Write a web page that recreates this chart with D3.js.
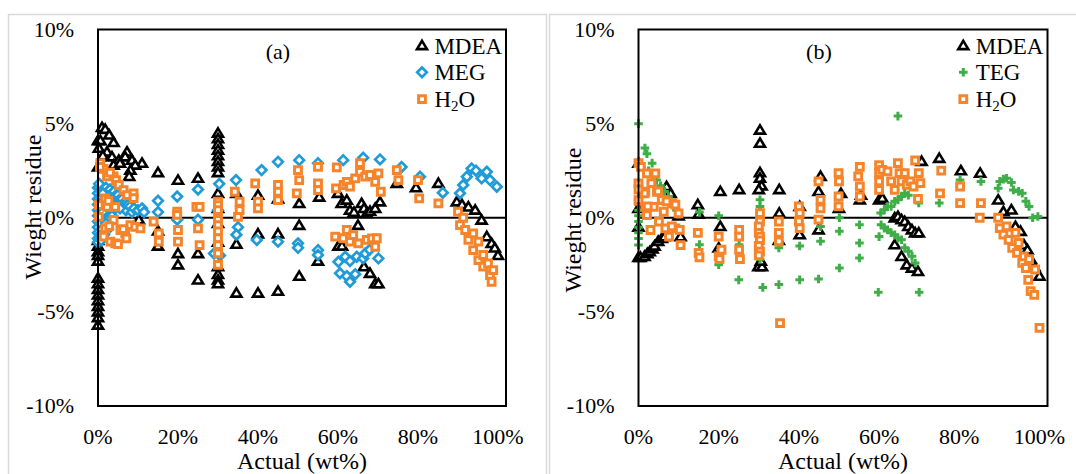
<!DOCTYPE html>
<html><head><meta charset="utf-8">
<script src="https://cdn.jsdelivr.net/npm/d3@7"></script>
<style>
html,body{margin:0;padding:0;background:#fff;}
svg{display:block;font-family:"Liberation Serif","Times New Roman",serif;}
</style></head>
<body><svg id="c" width="1076" height="474"></svg>
<script>
// ---------- data (x = actual wt%, y = weight residue %) ----------
const xTicks = [0, 20, 40, 60, 80, 100];
const yTicks = [-10, -5, 0, 5, 10];
const panelLabels = ["(a)", "(b)"];
const seriesNamesA = ["MDEA", "MEG", "H2O"];
const seriesNamesB = ["MDEA", "TEG", "H2O"];

const mdeaA = [
 [0,4.1],[0.6,4.1],[1.0,4.8],[1.8,4.7],[0.2,3.7],[3.9,4.0],[2.8,4.4],[2.25,3.5],[7.25,3.5],[3.5,3.24],[5.2,3.06],[6.8,3.24],
 [8.5,3.06],[11,2.9],[9.3,2.8],[3.9,2.8],[8.1,2.53],[5.5,2.9],[1.2,3.3],[0,2.7],[7.8,2.2],[10.2,-0.1],
 [0,-1.2],[0,-1.5],[0,-1.8],[0,-2.0],[0,-2.3],[0,-3.2],[0,-3.5],[0,-3.8],[0,-4.1],[0,-4.4],[0,-4.7],[0,-5.0],[0,-5.3],[0,-5.7],
 [15,2.4],[15,-0.7],[15,-1.5],[20,2.0],[20,-1.9],[20,-2.5],[25,2.1],[25,-1.9],[25,-3.3],
 [30,4.5],[30,4.2],[30,3.9],[30,3.6],[30,3.3],[30,3.0],[30,2.7],[30,2.4],[30,1.3],[30,0.5],[30,-0.3],[30,-1.3],[30,-2.6],[30,-3.0],[30,-3.3],[30,-3.5],
 [34.6,1.3],[34.6,-1.4],[34.6,-4.0],[40,1.2],[40,-0.85],[40,-4.0],[45,1.0],[45,-0.85],[45,-3.9],[50.3,0.76],[50.3,-0.4],[50.3,-3.1],
 [55.3,1.1],[55,-2.3],[60,1.3],[60.1,-1.5],[61,-1.5],[60.9,0.76],[62.2,0.94],[63,0.4],[64,0.3],[65,-0.4],[65.9,0.76],[66.5,0.5],
 [67.2,0.23],[68,0.35],[69.3,0.5],[70.5,0.85],[66.5,-2.6],[68,-2.95],[69.3,-3.5],[70.1,-3.5],[74.7,1.83],[79.5,1.6],[85.1,1.83],
 [89.7,0.85],[91,0.7],[92.6,0.58],[94.3,0.41],[95.9,-0.12],[97.2,-1.0],[98.4,-1.36],[99.2,-1.6],[100,-2.0]
];
const megA = [
 [0,1.6],[0,1.3],[0,1.0],[0,0.7],[0,0.4],[0,0.1],[0,-0.2],[0,-0.5],[0,-0.8],[0,-1.1],[0,-1.3],
 [0.5,1.5],[0.5,0.9],[0.5,0.3],[0.5,-0.3],[0.5,-0.9],[1,1.6],[1,1.1],[1,0.6],[1,0.0],[1,-0.6],[1.5,1.5],[1.5,0.8],[1.5,0.2],
 [2,1.6],[2,1.2],[2,0.6],[2.5,1.4],[2.5,0.9],[3,1.5],[3,1.0],[3,0.5],[3.5,1.3],[4,1.4],[4,0.9],[4.5,1.2],[5,1.2],[5,0.8],
 [5.5,1.0],[6,1.0],[6,0.6],[6.5,0.8],[7,0.8],[7,0.4],[7.5,0.7],[8,0.6],[8.5,0.3],[9,0.5],[10,0.4],[11,0.5],[11.5,0.3],
 [0.3,1.8],[1.2,1.3],[1.8,0.9],[2.2,0.3],[2.8,0.0],[3.2,0.8],[3.8,0.4],[0.8,-1.2],[1.5,-0.9],[2.0,-0.3],[1.2,0.3],
 [2.5,-0.6],[3.5,0.1],[4.5,0.6],[5.5,0.5],
 [15,0.9],[15,0.3],[19.8,1.13],[19.8,-0.1],[25,1.5],[25,-0.1],[30.3,1.8],[30,0.4],[29,-1.9],[30.5,-2.0],
 [34.5,2.0],[35,-0.5],[34.6,-0.9],[40.9,2.53],[39.7,-1.18],[45,2.97],[45,-1.27],[50.3,3.06],[50,-1.36],[50,-1.6],[55,2.9],[55,-1.72],[55,-1.98],
 [61.3,3.06],[60.1,-2.34],[60.5,-2.95],[62.2,-3.1],[63,-3.4],[61.8,-2.07],[63,-2.3],[64.3,-3.0],[64.7,-2.07],[66.3,-2.16],[66.3,3.19],
 [66.8,-1.9],[67.9,-1.7],[70.5,3.1],[70.1,-2.16],[75.9,2.7],[80.5,2.18],[86.2,1.33],[90.5,1.3],[91.3,1.74],[92.2,2.18],[93.4,2.62],
 [94.5,2.5],[95.9,2.09],[97.2,2.44],[98,2.0],[99.7,1.65]
];
const h2oA = [
 [0.6,2.9],[1.4,2.6],[2.25,2.2],[3.9,2.2],[4.5,2.0],[5.2,1.74],[6.4,1.47],[7.25,1.2],[8.9,1.3],[8.9,1.04],[1.8,1.03],[0.2,0.67],
 [2.25,0.58],[4.3,0.58],[0.2,0.05],[1.8,-0.56],[3.9,-0.12],[5.6,-0.65],[1.4,-1.0],[3.1,-1.27],[4.3,-1.36],[6.8,-0.83],[8.1,-0.39],
 [9.3,-0.48],[10.6,-0.56],[0.5,2.7],[3,2.4],[2.8,-0.45],[6.3,-0.6],[7.1,-1.1],[5,-1.4],[2.6,0.9],
 [13.9,-0.21],[15.2,-0.83],[15.2,-1.27],[19.8,0.33],[19.8,0.15],[20,-0.65],[20,-1.27],
 [24.6,0.58],[25.4,0.58],[25,-0.56],[25.4,-1.45],
 [30,0.85],[30,0.67],[30,0.41],[30,-0.12],[30,-0.39],[30,-0.73],[30,-1.09],[30,-1.45],[30,-1.89],[30,-2.5],
 [34.2,1.38],[35.4,0.85],[35.4,0.41],[35,0.05],[39.3,1.83],[40,0.85],[40,0.5],[45,1.74],[45,1.38],[45,0.94],
 [50,2.53],[50.3,2.0],[49.7,1.3],[55,2.7],[55,1.83],[55,1.47],[59.7,2.68],[59.5,1.56],[61.4,1.74],[62.2,1.91],[63,1.65],
 [64.3,2.09],[65.5,2.9],[65.5,2.44],[66.8,2.18],[68,2.27],[69.3,1.91],[70.1,2.36],[70.7,1.38],
 [59.3,-1.0],[61.3,-1.09],[62.2,-0.65],[63,-1.27],[63.8,-0.92],[65.1,-1.36],[67.2,-1.18],[68.5,-1.1],[69.3,-1.54],[69.7,-1.09],
 [74.7,2.53],[75.1,2.0],[80,2.0],[80.3,1.03],[85.1,0.76],
 [90,0.32],[90.5,-0.39],[91.3,0],[91.8,-0.65],[92.6,-1.18],[93.8,-0.83],[93.8,-1.72],[95.1,-1.27],[95.1,-2.25],[96.3,-1.98],
 [96.3,-2.6],[97.5,-2.43],[98,-3.04],[98.4,-3.4],[98.8,-2.78]
];

const mdeaB = [
 [0,-2.1],[0.5,-2.1],[1.5,-2.05],[2.2,-1.9],[2.8,-1.8],[3.5,-1.65],[4,-1.5],[4.9,-1.25],[5.8,-1.1],[6.5,-1.0],
 [0,2.9],[0,0.5],[0,-0.5],[7,1.66],[8,1.3],[10,0.1],[10.5,-1.0],
 [14.8,0.7],[15,0.2],[20.4,1.4],[20.4,-0.46],[20,-1.6],[25.1,1.5],
 [30.3,4.66],[30.3,3.96],[30.3,2.4],[30.3,2.1],[30.7,1.7],[30,1.5],[29.9,-2.6],[30.8,-2.6],[30.5,-2.3],
 [35.1,1.5],[35.1,0.25],[35,-1.2],[40.2,0.6],[40.2,-0.9],[45.4,2.2],[44.9,1.4],[44.9,-0.64],[50.5,1.3],[50,0.5],
 [55.2,0.95],[55.5,1.2],[60,0.95],[60.8,1.04],
 [63.9,0],[64.7,0.07],[65.6,-0.1],[66.4,-0.2],[67.3,-0.46],[68.2,-0.64],[69,-0.8],[69.9,-0.8],
 [63.9,-1.43],[65.6,-2.05],[66.9,-2.5],[68.2,-2.67],[69.7,-2.85],[70.6,3.0],[75,3.16],[80.4,2.5],[85.2,2.37],
 [89.7,0.95],[91,0.33],[93,0.42],[94,-0.46],[95.3,-0.72],[96.1,-1.43],[97,-1.7],[97.8,-2.2],[98.7,-2.6],[100,-3.1]
];
const tegB = [
 [0,5.0],[0,1.74],[0,1.4],[0,1.0],[0,0.7],[0,0.4],[0,0.1],[0,-0.2],[0,-0.5],[0,-0.8],[0,-1.1],[0,-1.45],
 [1.6,3.7],[2.1,3.4],[3.4,2.9],[2.5,2.5],[3.5,2.2],[4.5,2.0],[5.5,1.7],[6.5,1.4],[7.5,1.1],[8.8,0.6],[9.5,0.4],
 [15.2,0.3],[15.2,-1.43],[20,0.1],[20,-2.5],[25.1,-1.43],[25,-3.3],[30.3,0.95],[30.3,0.6],[30.3,0.3],[30.3,-2.2],[31,-3.7],
 [35,-3.55],[35,-1.6],[40.2,-3.3],[40.2,-1.5],[44.9,-3.25],[45.4,-1.25],[45.4,-0.46],[50.1,-2.67],[50.1,-0.72],[50.1,0],
 [55.1,-2.14],[55.1,-1.34],[55.1,-0.37],[59.8,-3.96],[60,-1.0],[60.4,0.25],[61.3,0.42],[62.1,0.6],[63,0.6],[63.9,0.87],
 [64.7,0.95],[65.6,1.13],[66.4,1.3],[67.3,1.2],[64.7,5.4],[60.5,-0.37],[61.3,-0.55],[62.1,-0.64],[63,-0.8],[63.9,-0.9],
 [64.7,-1.08],[65.6,-1.17],[66.4,-1.6],[67.3,-1.78],[68.2,-2.05],[69,-2.4],[70,-3.96],[69.9,0.78],[75,0.78],[80.2,2.0],
 [85.4,1.93],[89.7,1.57],[90.1,1.93],[91,2.05],[91.8,2.1],[93,1.87],[93.5,1.48],[94.8,1.4],[95.7,1.3],[96.6,0.87],
 [97.4,0.6],[98.3,0],[99.6,0.07]
];
const h2oB = [
 [0,2.9],[0.6,2.7],[2.1,2.36],[4.2,2.36],[0,1.83],[1.7,1.38],[4.6,1.38],[0,0.94],[1.7,0.58],[3.8,0.58],[6.3,0.94],[8.4,0.77],
 [10,0.23],[2.1,0.14],[6.3,0.32],[3,-0.65],[5.1,-0.21],[6.7,-0.56],[7.6,-1.0],[9.2,-0.56],[10.5,-1.45],[1.5,1.3],[4.9,1.4],
 [5.8,0.95],[7,0.87],[9.2,0.7],[0,1.5],[3.2,1.84],[2.3,0.6],[10.3,-0.64],[8.3,-0.46],
 [14.8,-0.8],[15,-1.87],[15.2,-2.1],[20,-1.0],[20,-2.05],[20.2,-2.2],[20.7,-1.7],[25.1,-0.64],[25.1,-1.0],[25.1,-1.7],[25.3,-2.2],
 [30.3,0.25],[30.3,-0.2],[30,-0.46],[30,-0.8],[30.3,-1.0],[30.3,-1.2],[30,-1.5],[30.3,-1.8],[30,-2.0],
 [35,-0.2],[35,-0.8],[35,-1.25],[35.3,-5.6],[40,0.6],[40.2,0.25],[40,-0.2],[40.2,-0.55],[44.9,1.93],[45.4,0.95],[45.4,0.5],[44.9,-0.1],
 [49.9,2.37],[50,1.93],[49.9,1.13],[49.9,0.6],[55.2,2.7],[54.8,2.2],[55.2,1.66],[55.2,1.13],[60,2.8],[60,2.37],[60,1.93],[60,1.48],
 [60.8,2.54],[62.1,2.46],[63,1.93],[63.9,1.48],[64.7,2.9],[65.1,2.37],[65.6,1.93],[66.4,2.37],[66.9,1.75],[67.8,1.93],[68.6,1.66],
 [69,3.04],[69.9,2.37],[70.3,1.84],[69.7,1.0],[75.5,2.5],[75.2,1.3],[80.2,1.66],[80.2,0.78],[85.4,0.78],[85.1,0],
 [89.7,0],[90.1,-0.55],[91,-0.9],[91.8,-0.46],[92.3,-1.17],[93.2,-1.6],[94,-0.8],[94.4,-1.87],[94.8,-1.34],[95.7,-2.4],[96.1,-2.05],
 [96.6,-2.67],[97.4,-2.2],[97.2,-3.3],[97.8,-3.9],[98.7,-4.1],[98.9,-2.75],[100,-5.85]
];

// ---------- drawing ----------
const svg = d3.select("#c");
const FONT = '"Liberation Serif","Times New Roman",serif';
const colors = { MDEA: "#000000", MEG: "#1f9bd8", TEG: "#3fae49", H2O: "#f5842a" };

// outer panel frames (light grey)
const frame = svg.append("g").attr("stroke", "#d9d9d9").attr("stroke-width", 1.5).attr("fill", "none");
frame.append("path").attr("d", "M8.5,480V14.5H546.5V480");
frame.append("path").attr("d", "M549.5,480V14.5H1080");

const shapes = {
  tri: "M0,-4.7L5,3.6L-5,3.6Z",
  dia: "M0,-4.8L4.8,0L0,4.8L-4.8,0Z",
  sq: "M-3.4,-3.4H3.4V3.4H-3.4Z",
  plus: "M-4.3,0H4.3M0,-4.3V4.3"
};
function drawMarker(g, kind, color) {
  const p = g.append("path").attr("d", shapes[kind]);
  if (kind === "tri") p.attr("fill", "#fff").attr("stroke", color).attr("stroke-width", 2.6).attr("stroke-linejoin", "miter");
  else if (kind === "dia") p.attr("fill", "#fff").attr("stroke", color).attr("stroke-width", 2.7);
  else if (kind === "sq") p.attr("fill", "#fff").attr("stroke", color).attr("stroke-width", 3.0);
  else p.attr("fill", "none").attr("stroke", color).attr("stroke-width", 3.0);
}

function panel(cfg) {
  const x = d3.scaleLinear().domain([0, 102]).range([cfg.x0, cfg.x1]);
  const y = d3.scaleLinear().domain([-10, 10]).range([406, 29.5]);
  const g = svg.append("g");

  // y tick labels
  g.append("g").attr("font-family", FONT).attr("font-size", 22).attr("text-anchor", "end")
    .selectAll("text").data(yTicks).join("text")
    .attr("x", cfg.x0 - 24).attr("y", d => y(d)).attr("dy", "0.34em")
    .text(d => d + "%");
  // x tick labels
  g.append("g").attr("font-family", FONT).attr("font-size", 22).attr("text-anchor", "middle")
    .selectAll("text").data(xTicks).join("text")
    .attr("x", d => x(d)).attr("y", 444)
    .text(d => d + "%");
  // axis titles
  g.append("text").attr("font-family", FONT).attr("font-size", 24).attr("text-anchor", "middle")
    .attr("x", (cfg.x0 + cfg.x1) / 2).attr("y", 469).text("Actual (wt%)");
  g.append("text").attr("font-family", FONT).attr("font-size", 24).attr("text-anchor", "middle")
    .attr("transform", `translate(${cfg.titleX},${cfg.titleY}) rotate(-90)`).text("Wieght residue");

  // zero line
  g.append("line").attr("x1", cfg.x0).attr("x2", cfg.x1).attr("y1", y(0)).attr("y2", y(0))
    .attr("stroke", "#000").attr("stroke-width", 2);

  // series
  cfg.series.forEach(s => {
    const sg = g.append("g");
    s.data.forEach(d => {
      const mg = sg.append("g").attr("transform", `translate(${x(d[0])},${y(d[1])})`);
      drawMarker(mg, s.kind, s.color);
    });
  });

  // plot box
  g.append("rect").attr("x", cfg.x0).attr("y", 29.5).attr("width", cfg.x1 - cfg.x0).attr("height", 406 - 29.5)
    .attr("fill", "none").attr("stroke", "#000").attr("stroke-width", 2);

  // panel label
  g.append("text").attr("font-family", FONT).attr("font-size", 22).attr("text-anchor", "middle")
    .attr("x", x(45)).attr("y", 59).text(cfg.label);

  // legend
  const lg = g.append("g");
  cfg.series.forEach((s, i) => {
    const cy = 45.5 + i * 26.8;
    const mg = lg.append("g").attr("transform", `translate(${x(81)},${cy})`);
    drawMarker(mg, s.kind, s.color);
    const t = lg.append("text").attr("font-family", FONT).attr("font-size", 23)
      .attr("x", x(84.1)).attr("y", cy + 8);
    if (s.name === "H2O") {
      t.append("tspan").text("H");
      t.append("tspan").attr("font-size", 15).attr("dy", 4).text("2");
      t.append("tspan").attr("dy", -4).text("O");
    } else t.text(s.name);
  });
}

panel({
  x0: 98, x1: 506, titleX: 41, titleY: 207, label: panelLabels[0],
  series: [
    { name: seriesNamesA[0], data: mdeaA, kind: "tri", color: colors.MDEA },
    { name: seriesNamesA[1], data: megA, kind: "dia", color: colors.MEG },
    { name: seriesNamesA[2], data: h2oA, kind: "sq", color: colors.H2O }
  ]
});
panel({
  x0: 638.5, x1: 1047.5, titleX: 581, titleY: 220, label: panelLabels[1],
  series: [
    { name: seriesNamesB[0], data: mdeaB, kind: "tri", color: colors.MDEA },
    { name: seriesNamesB[1], data: tegB, kind: "plus", color: colors.TEG },
    { name: seriesNamesB[2], data: h2oB, kind: "sq", color: colors.H2O }
  ]
});
</script></body></html>
